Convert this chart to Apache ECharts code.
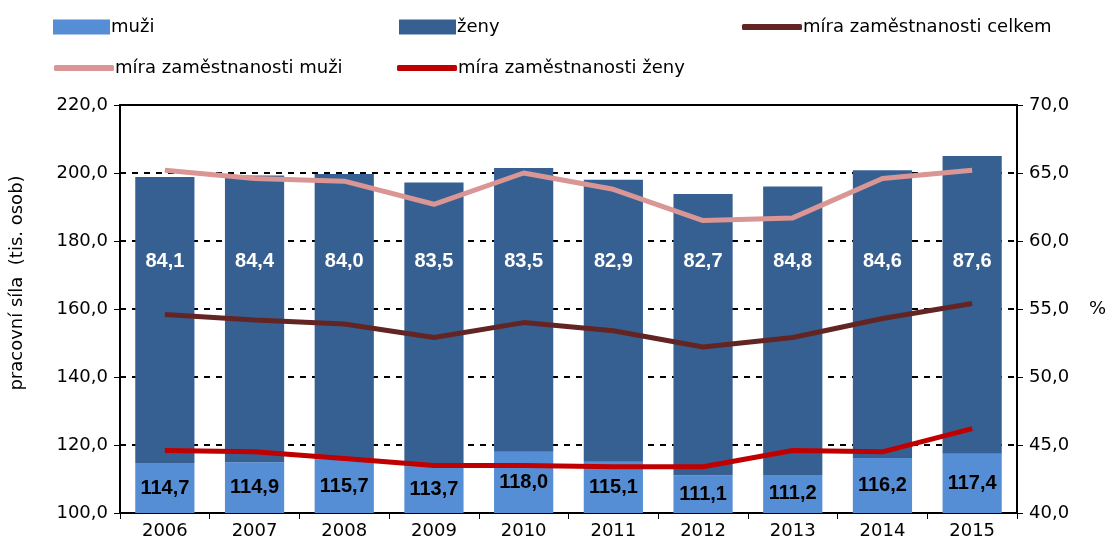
<!DOCTYPE html>
<html lang="cs">
<head>
    <meta charset="UTF-8">
    <script src="https://cdn.jsdelivr.net/npm/echarts@6/dist/echarts.min.js"></script>
    <style>
        body { margin: 0; background: #fff; }
    </style>
</head>
<body>
<div id="main" style="width: 1109px;height:547px;"></div>
<script type="text/javascript">
    // data
    var years = ['2006', '2007', '2008', '2009', '2010', '2011', '2012', '2013', '2014', '2015'];
    var muzi = [114.7, 114.9, 115.7, 113.7, 118.0, 115.1, 111.1, 111.2, 116.2, 117.4];
    var zeny = [84.1, 84.4, 84.0, 83.5, 83.5, 82.9, 82.7, 84.8, 84.6, 87.6];
    var mzCelkem = [54.6, 54.2, 53.9, 52.9, 54.0, 53.4, 52.2, 52.9, 54.3, 55.4];
    var mzMuzi = [65.2, 64.6, 64.4, 62.7, 65.0, 63.8, 61.5, 61.7, 64.6, 65.2];
    var mzZeny = [44.6, 44.5, 44.0, 43.5, 43.5, 43.4, 43.4, 44.6, 44.5, 46.2];
    var leftTicks = [100, 120, 140, 160, 180, 200, 220];
    var rightTicks = [40, 45, 50, 55, 60, 65, 70];

    var font = 'DejaVu Sans, Liberation Sans, sans-serif';
    var boldFont = 'Liberation Sans, Arial, sans-serif';
    var zenyLabelLevel = 174;   // kde stoji popisky zen

    function fmt(v) {
        return Number(v).toFixed(1).replace('.', ',');
    }

    var myChart = echarts.init(document.getElementById('main'));

    function oneLegend(name, left, top, icon, w, h) {
        return {
            data: [name],
            left: left,
            top: top,
            icon: icon,
            itemWidth: w,
            itemHeight: h,
            itemGap: 0,
            selectedMode: false,
            textStyle: { fontFamily: font, fontSize: 18, color: '#000', padding: [0, 0, 0, -4] }
        };
    }

    var option = {
        animation: false,
        textStyle: { fontFamily: font },
        legend: [
            oneLegend('muži', 48, 13, 'rect', 57, 15),
            oneLegend('ženy', 394, 13, 'rect', 57, 15),
            oneLegend('míra zaměstnanosti celkem', 737, 13, 'roundRect', 60, 6),
            oneLegend('míra zaměstnanosti muži', 49, 54, 'roundRect', 60, 6),
            oneLegend('míra zaměstnanosti ženy', 392, 54, 'roundRect', 60, 6)
        ],
        grid: {
            left: 120,
            right: 92,
            top: 105,
            bottom: 34,
            outerBoundsMode: 'none',
            show: true,
            borderColor: '#000',
            borderWidth: 2,
            backgroundColor: 'transparent'
        },
        xAxis: {
            type: 'category',
            data: years,
            axisLine: { lineStyle: { color: '#000', width: 2 } },
            axisTick: { show: true, length: 6, lineStyle: { color: '#000' } },
            axisLabel: { color: '#000', fontSize: 18, margin: 9, fontFamily: font }
        },
        yAxis: [{
            type: 'value',
            min: leftTicks[0],
            max: leftTicks[leftTicks.length - 1],
            interval: 20,
            name: 'pracovní síla  (tis. osob)',
            nameLocation: 'middle',
            nameGap: 94,
            nameTextStyle: { color: '#000', fontSize: 18, fontFamily: font, padding: [0, 0, 0, 52] },
            axisLine: { show: true, lineStyle: { color: '#000', width: 2 } },
            axisTick: { show: true, length: 6, lineStyle: { color: '#000' } },
            axisLabel: { color: '#000', fontSize: 18, margin: 12, formatter: fmt, fontFamily: font },
            splitLine: { show: true, lineStyle: { color: '#000', type: [6, 6], width: 2 } }
        }, {
            type: 'value',
            min: rightTicks[0],
            max: rightTicks[rightTicks.length - 1],
            interval: 5,
            name: '%',
            nameLocation: 'middle',
            nameRotate: 0,
            nameGap: 72,
            nameTextStyle: { color: '#000', fontSize: 18, fontFamily: font },
            axisLine: { show: true, lineStyle: { color: '#000', width: 2 } },
            axisTick: { show: true, length: 6, lineStyle: { color: '#000' } },
            axisLabel: { color: '#000', fontSize: 18, margin: 12, formatter: fmt, fontFamily: font },
            splitLine: { show: false }
        }],
        series: [{
            name: 'muži',
            type: 'bar',
            stack: 'sila',
            data: muzi,
            barCategoryGap: '34%',
            itemStyle: { color: '#558ED5' },
            label: {
                show: true,
                position: 'inside',
                color: '#000',
                fontWeight: 'bold',
                fontSize: 20,
                fontFamily: boldFont,
                formatter: function (p) { return fmt(p.value); }
            },
            z: 2
        }, {
            name: 'ženy',
            type: 'bar',
            stack: 'sila',
            data: zeny,
            itemStyle: { color: '#376092' },
            z: 2
        }, {
            // pomocna rada jen pro popisky zen
            name: 'popisky',
            type: 'scatter',
            data: zeny.map(function (v) { return zenyLabelLevel; }),
            symbolSize: 0,
            silent: true,
            itemStyle: { opacity: 1 },
            label: {
                show: true,
                position: 'inside',
                color: '#fff',
                fontWeight: 'bold',
                fontSize: 20,
                fontFamily: boldFont,
                formatter: function (p) { return fmt(zeny[p.dataIndex]); }
            },
            z: 3
        }, {
            name: 'míra zaměstnanosti celkem',
            type: 'line',
            yAxisIndex: 1,
            data: mzCelkem,
            symbol: 'none',
            lineStyle: { color: '#632523', width: 5 },
            itemStyle: { color: '#632523' },
            z: 4
        }, {
            name: 'míra zaměstnanosti muži',
            type: 'line',
            yAxisIndex: 1,
            data: mzMuzi,
            symbol: 'none',
            lineStyle: { color: '#D99694', width: 5 },
            itemStyle: { color: '#D99694' },
            z: 4
        }, {
            name: 'míra zaměstnanosti ženy',
            type: 'line',
            yAxisIndex: 1,
            data: mzZeny,
            symbol: 'none',
            lineStyle: { color: '#C00000', width: 5 },
            itemStyle: { color: '#C00000' },
            z: 4
        }]
    };

    myChart.setOption(option);
</script>
</body>
</html>
